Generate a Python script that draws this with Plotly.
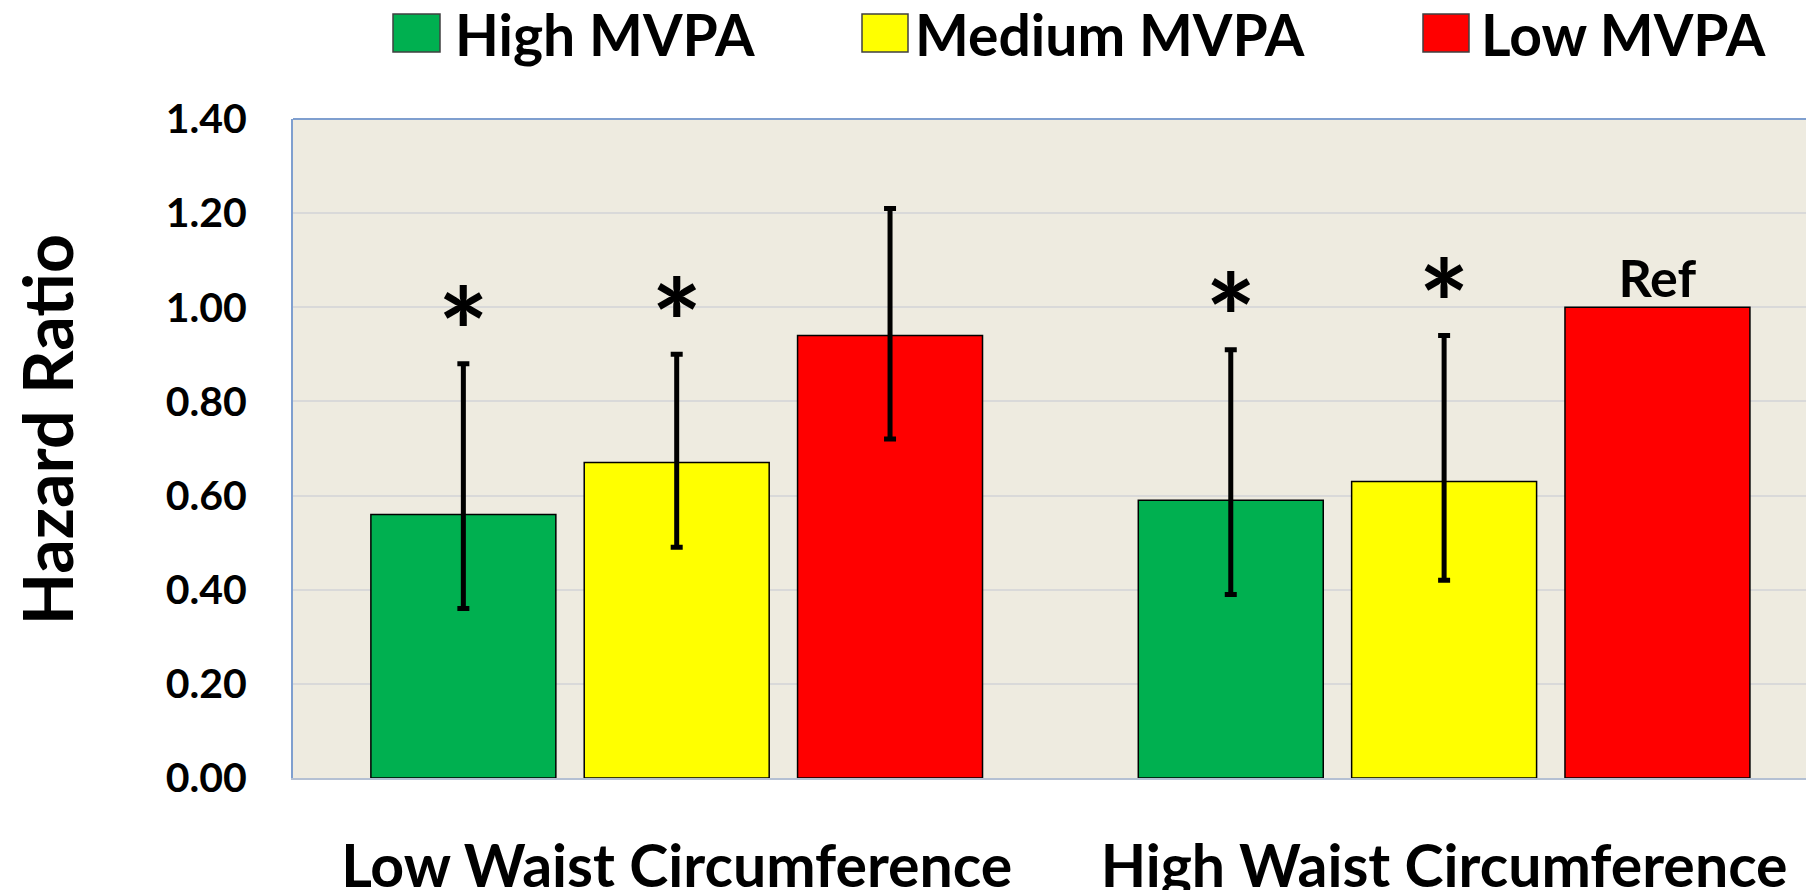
import plotly.graph_objects as go

groups = ["Low Waist Circumference", "High Waist Circumference"]
levels = ["High MVPA", "Medium MVPA", "Low MVPA"]
colors = ["#00B050", "#FFFF00", "#FF0000"]

hr_high = [0.56, 0.59]
hr_medium = [0.67, 0.63]
hr_low = [0.94, 1.00]

lower_high = [0.36, 0.39]
lower_medium = [0.49, 0.42]
lower_low = [0.72, None]

upper_high = [0.88, 0.91]
upper_medium = [0.90, 0.94]
upper_low = [1.21, None]

marks_high = ["*", "*"]
marks_medium = ["*", "*"]
marks_low = ["", "Ref"]

y_ticks = [0.0, 0.2, 0.4, 0.6, 0.8, 1.0, 1.2, 1.4]

FONT = "Lato"
series = [
    (hr_high, lower_high, upper_high, marks_high),
    (hr_medium, lower_medium, upper_medium, marks_medium),
    (hr_low, lower_low, upper_low, marks_low),
]

fig = go.Figure()
for i, (name, color, (hr, lo, up, marks)) in enumerate(zip(levels, colors, series)):
    # no CI for the reference bar: leave it out (trailing) so no bar is drawn
    plus = [u - v for u, v in zip(up, hr) if u is not None]
    minus = [v - l for l, v in zip(lo, hr) if l is not None]
    fig.add_trace(go.Bar(
        x=groups, y=hr, name=name, offsetgroup=str(i),
        marker=dict(color=color, line=dict(color="black", width=1.5)),
        error_y=dict(type="data", array=plus, arrayminus=minus,
                     color="black", thickness=5, width=6),
        showlegend=False,
    ))
    # significance marks above the upper CI (or above the bar for Ref);
    # the glyph sits high in its text box, so pull the anchor down a little
    base = [(u if u is not None else v) - (0.095 if m == "*" else 0.012)
            for u, v, m in zip(up, hr, marks)]
    fig.add_trace(go.Bar(
        x=groups, y=[0.005] * len(groups), base=base, offsetgroup=str(i),
        marker=dict(color="rgba(0,0,0,0)", line=dict(width=0)),
        text=marks, textposition="outside", cliponaxis=False,
        textfont=dict(family=FONT, size=[120 if m == "*" else 52 for m in marks],
                      color="black", weight="bold"),
        showlegend=False, hoverinfo="skip",
    ))

# page has an 8px body margin; plot area in screenshot pixels
PX_L, PX_W, PX_B, PX_H = 293, 1521, 777.5, 658.5
def px(x):
    return (x - PX_L) / PX_W
def py(y):
    return (PX_B - y) / PX_H

# legend drawn by hand so the swatches can be large
swatches = [(393, 440), (862, 908), (1423, 1469)]
text_x = [453, 913, 1479]
for name, color, (x0, x1), tx in zip(levels, colors, swatches, text_x):
    fig.add_shape(type="rect", xref="paper", yref="paper",
                  x0=px(x0), x1=px(x1), y0=py(52), y1=py(14),
                  fillcolor=color, line=dict(color="#404040", width=1.5))
    fig.add_annotation(xref="paper", yref="paper", x=px(tx), y=py(34),
                       text=name, showarrow=False, xanchor="left", yanchor="middle",
                       font=dict(family=FONT, size=57, color="black", weight="bold"))

# y-axis title
fig.add_annotation(xref="paper", yref="paper", x=px(46), y=py(430),
                   text="Hazard Ratio", textangle=-90, showarrow=False,
                   xanchor="center", yanchor="middle",
                   font=dict(family=FONT, size=68, color="black", weight="bold"))

# top border of the plot area
fig.add_shape(type="line", xref="paper", yref="paper", x0=0, x1=1, y0=1, y1=1,
              line=dict(color="#7F9FCF", width=2))

fig.update_layout(
    width=1806, height=882,
    barmode="group", bargap=0.166, bargroupgap=0.133,
    paper_bgcolor="white", plot_bgcolor="#EEEBE0",
    margin=dict(l=285, r=0, t=111, b=112, autoexpand=False),
    font=dict(family=FONT, color="black"),
    xaxis=dict(
        range=[-0.5, 1.482], showline=True, linecolor="#B4C0D3", linewidth=2,
        ticks="", ticklabelstandoff=36, automargin=False,
        tickfont=dict(family=FONT, size=59, weight="bold"),
    ),
    yaxis=dict(
        range=[0, 1.4], tickvals=y_ticks, tickformat=".2f",
        showline=True, linecolor="#7F9FCF", linewidth=2,
        showgrid=True, gridcolor="#D9D9D9", gridwidth=2, zeroline=False,
        ticks="", ticklabelstandoff=36, automargin=False,
        tickfont=dict(family=FONT, size=41, weight="bold"),
    ),
)

fig.write_html("out.html")
